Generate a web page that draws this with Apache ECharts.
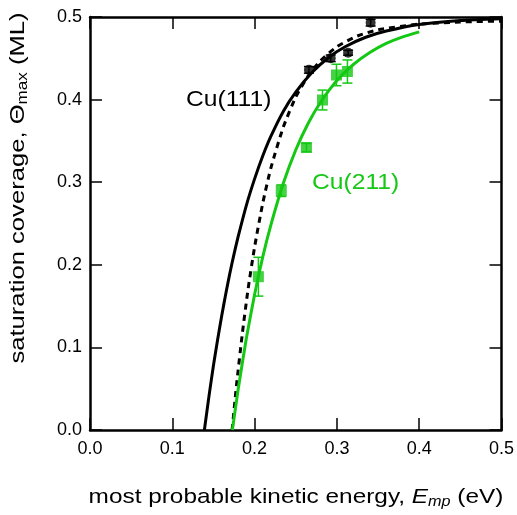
<!DOCTYPE html>
<html><head><meta charset="utf-8">
<script src="https://cdn.jsdelivr.net/npm/echarts@6/dist/echarts.min.js"></script>
<style>html,body{margin:0;padding:0;background:#fff}#c{width:517px;height:515px}</style>
</head><body><div id="c"></div>
<script>
// Cu(111) measured points: [E, theta, err]
const cu111Points = [[0.266,0.436,0.004],[0.2925,0.450,0.004],[0.3136,0.4568,0.003],[0.341,0.4931,0.004]];
// Cu(211) measured points: [E, theta, err]
const cu211Points = [[0.2046,0.1856,0.0235],[0.2324,0.2897,0.007],[0.263,0.342,0.005],[0.2825,0.3995,0.012],[0.2995,0.4298,0.013],[0.3128,0.434,0.014]];
// Curves
const cu111Fit = [[0.139,0],[0.145,0.044],[0.150,0.078],[0.155,0.109],[0.160,0.138],[0.165,0.165],[0.170,0.190],[0.175,0.213],[0.180,0.234],[0.190,0.272],[0.200,0.304],[0.210,0.332],[0.220,0.356],[0.235,0.386],[0.250,0.409],[0.270,0.433],[0.290,0.451],[0.310,0.464],[0.335,0.4755],[0.360,0.483],[0.400,0.491],[0.450,0.4958],[0.500,0.498]];
const cu111Dashed = [[0.1727,0],[0.178,0.054],[0.185,0.116],[0.192,0.170],[0.200,0.2215],[0.210,0.275],[0.220,0.318],[0.235,0.367],[0.250,0.403],[0.265,0.4285],[0.280,0.447],[0.300,0.464],[0.325,0.477],[0.350,0.4845],[0.400,0.4914],[0.450,0.494],[0.500,0.495]];
const cu211Fit = [[0.173,0],[0.180,0.049],[0.190,0.111],[0.200,0.164],[0.210,0.210],[0.220,0.249],[0.235,0.299],[0.250,0.339],[0.265,0.371],[0.280,0.3965],[0.300,0.423],[0.320,0.4425],[0.340,0.457],[0.360,0.468],[0.380,0.476],[0.400,0.482]];
const xTicks = [0,0.1,0.2,0.3,0.4,0.5];
const yTicks = [0,0.1,0.2,0.3,0.4,0.5];

const FONT = 'Liberation Sans, Arial, Helvetica, sans-serif';
const GREEN = '#14c814';
const chart = echarts.init(document.getElementById('c'));

function errBar(color){
  return function(params, api){
    const x = api.value(0), y = api.value(1), e = api.value(2);
    const top = api.coord([x, y + e]), bot = api.coord([x, y - e]);
    const cap = 5;
    return {type:'group', children:[
      {type:'line', shape:{x1:top[0],y1:top[1],x2:bot[0],y2:bot[1]}, style:{stroke:color,lineWidth:1.5}},
      {type:'line', shape:{x1:top[0]-cap,y1:top[1],x2:top[0]+cap,y2:top[1]}, style:{stroke:color,lineWidth:1.5}},
      {type:'line', shape:{x1:bot[0]-cap,y1:bot[1],x2:bot[0]+cap,y2:bot[1]}, style:{stroke:color,lineWidth:1.5}}
    ]};
  };
}

const axisCommon = {
  type:'value', min:xTicks[0], max:xTicks[xTicks.length-1], interval:0.1,
  axisLine:{show:true, onZero:false, lineStyle:{color:'#000', width:2.5}},
  axisTick:{show:true, inside:true, length:12, lineStyle:{color:'#000', width:1.5}},
  splitLine:{show:false}
};

chart.setOption({
  animation:false,
  backgroundColor:'#fff',
  grid:{left:90, right:14, top:17, bottom:85},
  xAxis:[
    Object.assign({}, axisCommon, {position:'bottom',
      axisLabel:{color:'#000', fontFamily:FONT, fontSize:18, margin:10, formatter:v=>v.toFixed(1)}}),
    Object.assign({}, axisCommon, {position:'top', axisLabel:{show:false}})
  ],
  yAxis:[
    Object.assign({}, axisCommon, {position:'left', min:yTicks[0], max:yTicks[yTicks.length-1],
      axisLabel:{color:'#000', fontFamily:FONT, fontSize:18, margin:8, formatter:v=>v.toFixed(1)}}),
    Object.assign({}, axisCommon, {position:'right', min:yTicks[0], max:yTicks[yTicks.length-1], axisLabel:{show:false}})
  ],
  series:[
    {type:'line', data:cu111Fit, smooth:0.2, symbol:'none', lineStyle:{color:'#000', width:3}, z:3},
    {type:'line', data:cu111Dashed, smooth:0.2, symbol:'none', lineStyle:{color:'#000', width:3, type:[6,5]}, z:3},
    {type:'line', data:cu211Fit, smooth:0.2, symbol:'none', lineStyle:{color:GREEN, width:3}, z:3},
    {type:'custom', renderItem:errBar('#000'), data:cu111Points, z:4},
    {type:'custom', renderItem:errBar(GREEN), data:cu211Points, z:4},
    {type:'scatter', data:cu111Points.map(p=>[p[0],p[1]]), symbol:'circle', symbolSize:10, itemStyle:{color:'#000'}, z:5},
    {type:'scatter', data:cu211Points.map(p=>[p[0],p[1]]), symbol:'rect', symbolSize:11, itemStyle:{color:GREEN}, z:5}
  ],
  graphic:[
    {type:'text', x:186, y:100, scaleX:1.12, style:{text:'Cu(111)', fill:'#000', font:'22px '+FONT, verticalAlign:'middle'}},
    {type:'text', x:312, y:183, scaleX:1.12, style:{text:'Cu(211)', fill:GREEN, font:'22px '+FONT, verticalAlign:'middle'}},
    {type:'text', x:296, y:497, scaleX:1.16, style:{
      text:'most probable kinetic energy, {i|E}{sub|mp} (eV)', align:'center', verticalAlign:'middle',
      fill:'#000', font:'21px '+FONT,
      rich:{i:{fontStyle:'italic', fontSize:21, fontFamily:FONT}, sub:{fontStyle:'italic', fontSize:14, fontFamily:FONT, padding:[10,0,0,0]}}
    }},
    {type:'text', x:18, y:188, rotation:Math.PI/2, scaleX:1.22, style:{
      text:'saturation coverage, Θ{sub|max} (ML)', align:'center', verticalAlign:'middle',
      fill:'#000', font:'21px '+FONT,
      rich:{sub:{fontSize:14, fontFamily:FONT, padding:[10,0,0,0]}}
    }}
  ]
});
</script></body></html>
